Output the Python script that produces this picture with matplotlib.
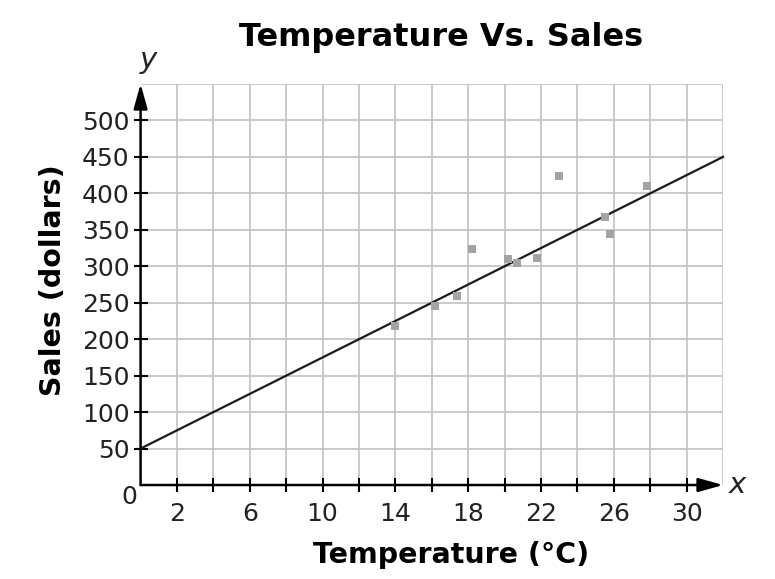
import numpy as np
import matplotlib.pyplot as plt

# data
temperature = [14.0, 16.2, 17.4, 18.2, 20.2, 20.7, 21.8, 23.0, 25.5, 25.8, 27.8]
sales = [218, 245, 259, 324, 310, 305, 311, 424, 367, 344, 410]

# line of best fit: intercept and slope
fit_intercept = 50
fit_slope = 12.5

x_tick_labels = [2, 6, 10, 14, 18, 22, 26, 30]
y_tick_labels = [50, 100, 150, 200, 250, 300, 350, 400, 450, 500]

fig = plt.figure(figsize=(7.75, 5.79), dpi=100)
ax = fig.add_axes([0.1814, 0.1623, 0.7516, 0.6927])
ax.set_xlim(0, 32)
ax.set_ylim(0, 550)

# grid
grid_color = "#c6c6c6"
ax.vlines(np.arange(2, 33, 2), 0, 550, color=grid_color, lw=1.3, zorder=1)
ax.hlines(np.arange(50, 551, 50), 0, 32, color=grid_color, lw=1.3, zorder=1)

for s in ax.spines.values():
    s.set_visible(False)

# axes with arrows
arrow = dict(arrowstyle="-|>,head_length=1.5,head_width=0.42", color="black", lw=1.8,
             shrinkA=0, shrinkB=0, mutation_scale=10)
ax.annotate("", xy=(32, 0), xytext=(0, 0), arrowprops=arrow, annotation_clip=False, zorder=4)
ax.annotate("", xy=(0, 550), xytext=(0, 0), arrowprops=arrow, annotation_clip=False, zorder=4)

# fitted line
xs = np.array([0, 32])
ax.plot(xs, fit_intercept + fit_slope * xs, color="#1a1a1a", lw=1.6, zorder=3, clip_on=False)

# data points
ax.scatter(temperature, sales, marker="s", s=30, color="#a3a3a3", zorder=3, linewidths=0)

# ticks
ax.set_xticks(np.arange(2, 31, 2))
ax.set_xticklabels([str(v) if v in x_tick_labels else "" for v in range(2, 31, 2)])
ax.set_yticks(y_tick_labels)
ax.set_yticklabels([str(v) for v in y_tick_labels])
ax.tick_params(axis="both", direction="inout", length=10, width=1.5, color="black",
               labelsize=18, labelcolor="#222222")
ax.tick_params(axis="x", pad=7)
ax.tick_params(axis="y", pad=3)

ax.text(-0.2, -16, "0", ha="right", va="center", fontsize=18, color="#222222")
ax.text(32.3, 0, "x", ha="left", va="center", fontsize=21, style="italic", color="#222222")
ax.text(0.4, 563, "y", ha="center", va="bottom", fontsize=21, style="italic", color="#222222")

ax.set_xlabel("Temperature (°C)", fontsize=20.5, fontweight="bold")
ax.xaxis.set_label_coords(0.533, -0.175)
ax.xaxis.label.set_va("center")
ax.set_ylabel("Sales (dollars)", fontsize=20.5, fontweight="bold")
ax.yaxis.set_label_coords(-0.15, 0.511)
ax.yaxis.label.set_va("center")

ax.text(0.516, 1.115, "Temperature Vs. Sales", transform=ax.transAxes, ha="center", va="center",
        fontsize=23, fontweight="bold")

plt.savefig("out.png", dpi=100)
plt.close()
